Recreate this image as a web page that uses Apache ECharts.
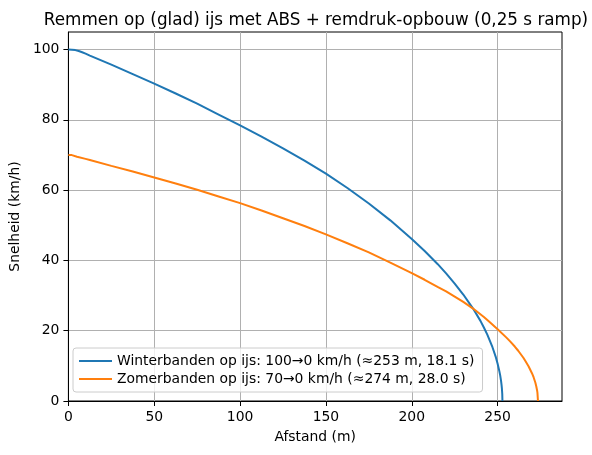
<!DOCTYPE html>
<html>
<head>
<meta charset="utf-8">
<script src="https://cdn.jsdelivr.net/npm/echarts@6/dist/echarts.min.js"></script>
<style>
html,body{margin:0;padding:0;background:#fff;}
#chart{width:592px;height:455px;}
</style>
</head>
<body>
<div id="chart"></div>
<script>
// Distance (m) and speed (km/h)
const winterDist  = [0, 2, 4, 6, 8, 10, 12.5, 25, 37.5, 50, 62.5, 75, 87.5, 100, 112.5, 125, 137.5, 150, 162.5, 175, 187.5, 200, 207.5, 215, 220, 225, 230, 235.7, 240, 242, 244, 247, 249, 250, 251, 251.5, 252, 252.3, 252.5, 252.7, 252.8];
const winterSpeed = [100, 99.97, 99.85, 99.6, 99.25, 98.85, 98.3, 95.7, 93.0, 90.3, 87.5, 84.6, 81.5, 78.4, 75.2, 71.9, 68.4, 64.7, 60.6, 56.2, 51.4, 46.1, 42.7, 39.0, 36.3, 33.4, 30.3, 26.3, 22.8, 20.9, 18.9, 15.3, 12.4, 10.6, 8.5, 7.3, 5.7, 4.5, 3.5, 2.0, 0];
const summerDist  = [0, 2, 5, 10, 12.5, 25, 37.5, 50, 62.5, 75, 87.5, 100, 112.5, 125, 137.5, 150, 162.5, 175, 187.5, 200, 207.5, 215, 220, 225, 230, 235.7, 242, 245, 250, 255, 257, 260, 262, 265, 266, 268, 269, 270, 271, 272, 272.5, 273, 273.2, 273.5];
const summerSpeed = [70, 69.97, 69.5, 68.9, 68.6, 66.9, 65.3, 63.6, 61.9, 60.1, 58.2, 56.3, 54.2, 52.0, 49.8, 47.4, 44.9, 42.3, 39.4, 36.4, 34.5, 32.5, 31.2, 29.7, 28.2, 26.3, 23.9, 22.6, 20.4, 18.1, 17.1, 15.5, 14.3, 12.3, 11.5, 9.9, 8.9, 7.9, 6.7, 5.2, 4.2, 3.0, 2.3, 0];
const winterName = 'Winterbanden op ijs: 100\u21920 km/h (\u2248253 m, 18.1 s)';
const summerName = 'Zomerbanden op ijs: 70\u21920 km/h (\u2248274 m, 28.0 s)';
const titleText = 'Remmen op (glad) ijs met ABS + remdruk-opbouw (0,25 s ramp)';
const xTicks = [0, 50, 100, 150, 200, 250];
const yTicks = [0, 20, 40, 60, 80, 100];

const pairs = (xs, ys) => xs.map((x, i) => [x, ys[i]]);
const font = 'DejaVu Sans';
const chart = echarts.init(document.getElementById('chart'), null, {renderer: 'canvas'});
chart.setOption({
  animation: false,
  backgroundColor: '#fff',
  textStyle: {fontFamily: font, color: '#000'},
  title: {
    text: titleText, left: 311, top: 7, textAlign: 'center',
    textStyle: {fontFamily: font, fontSize: 16.8, fontWeight: 'normal', color: '#000'}
  },
  grid: {left: 66, right: 30, top: 32, bottom: 54, show: true, borderColor: '#000', borderWidth: 1, backgroundColor: 'transparent'},
  legend: {
    orient: 'vertical', left: 73, top: 348,
    padding: [6, 8, 6, 6], itemGap: 4, itemWidth: 33, itemHeight: 2,
    icon: 'rect',
    backgroundColor: 'rgba(255,255,255,0.8)', borderColor: '#cccccc', borderWidth: 1, borderRadius: 3,
    textStyle: {fontFamily: font, fontSize: 13.9, color: '#000'},
    data: [winterName, summerName]
  },
  xAxis: {
    type: 'value', min: 0, max: 287.5, interval: 50,
    name: 'Afstand (m)', nameLocation: 'middle', nameGap: 29,
    nameTextStyle: {fontFamily: font, fontSize: 13.9, color: '#000'},
    axisLine: {show: true, lineStyle: {color: '#000', width: 1}},
    axisTick: {show: true, length: 5, customValues: xTicks, lineStyle: {color: '#000'}},
    axisLabel: {margin: 9, fontFamily: font, fontSize: 13.9, color: '#000', customValues: xTicks,
      formatter: v => xTicks.includes(v) ? String(v) : ''},
    splitLine: {show: true, lineStyle: {color: '#b0b0b0', width: 1}}
  },
  yAxis: {
    type: 'value', min: 0, max: 105, interval: 20,
    name: 'Snelheid (km/h)', nameLocation: 'middle', nameGap: 40,
    nameTextStyle: {fontFamily: font, fontSize: 13.9, color: '#000'},
    axisLine: {show: true, lineStyle: {color: '#000', width: 1}},
    axisTick: {show: true, length: 5, customValues: yTicks, lineStyle: {color: '#000'}},
    axisLabel: {margin: 9, fontFamily: font, fontSize: 13.9, color: '#000', customValues: yTicks,
      formatter: v => yTicks.includes(v) ? String(v) : ''},
    splitLine: {show: true, lineStyle: {color: '#b0b0b0', width: 1}}
  },
  series: [
    {name: winterName, type: 'line', data: pairs(winterDist, winterSpeed), showSymbol: false, symbol: 'none',
      lineStyle: {color: '#1f77b4', width: 2}, itemStyle: {color: '#1f77b4'}},
    {name: summerName, type: 'line', data: pairs(summerDist, summerSpeed), showSymbol: false, symbol: 'none',
      lineStyle: {color: '#ff7f0e', width: 2}, itemStyle: {color: '#ff7f0e'}}
  ]
});
</script>
</body>
</html>
